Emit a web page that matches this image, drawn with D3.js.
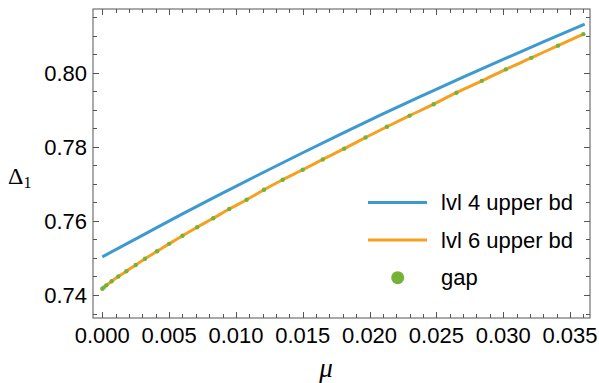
<!DOCTYPE html>
<html>
<head>
<meta charset="utf-8">
<script src="https://cdn.jsdelivr.net/npm/d3@7"></script>
<style>
  html, body { margin: 0; padding: 0; background: #fff; }
  svg { display: block; }
  .tick-label { font-family: "Liberation Sans", Arial, sans-serif; font-size: 22px; fill: #000; }
  .legend-label { font-family: "Liberation Sans", Arial, sans-serif; font-size: 22px; fill: #000; }
  .axis-title { font-family: "Liberation Serif", "Times New Roman", serif; fill: #000; }
</style>
</head>
<body>
<svg id="chart" width="599" height="383"></svg>
<script>
// μ values of the computed gap points, and the gap Δ1 at each
const gapMu = [0, 0.0001, 0.0003, 0.0007, 0.0012, 0.0018, 0.0025, 0.0032, 0.0041, 0.0050,
  0.0060, 0.0071, 0.0083, 0.0095, 0.0108, 0.0121, 0.0135, 0.0150, 0.0165, 0.0181,
  0.0197, 0.0213, 0.0230, 0.0248, 0.0265, 0.0284, 0.0302, 0.0321, 0.0341, 0.0360];
const gapVals = [0.7417, 0.7420, 0.7426, 0.7437, 0.7450, 0.7464, 0.7481, 0.7498, 0.7518, 0.7538,
  0.7560, 0.7583, 0.7607, 0.7632, 0.7657, 0.7684, 0.7711, 0.7738, 0.7766, 0.7795,
  0.7825, 0.7854, 0.7884, 0.7915, 0.7946, 0.7978, 0.8009, 0.8040, 0.8073, 0.8104];

// level-6 upper bound (coincides with the gap)
const lvl6Mu = gapMu;
const lvl6Vals = gapVals;

// level-4 upper bound
const lvl4Mu = [0, 0.003, 0.006, 0.009, 0.012, 0.015, 0.018, 0.021, 0.024, 0.027, 0.030, 0.033, 0.0361];
const lvl4Vals = [0.7503, 0.7561, 0.7619, 0.7675, 0.7730, 0.7784, 0.7837, 0.7889, 0.7939, 0.7988, 0.8036, 0.8083, 0.8131];

const xMajorTicks = [0, 0.005, 0.010, 0.015, 0.020, 0.025, 0.030, 0.035];
const xTickLabels = ["0.000", "0.005", "0.010", "0.015", "0.020", "0.025", "0.030", "0.035"];
const yMajorTicks = [0.74, 0.76, 0.78, 0.80];
const yTickLabels = ["0.74", "0.76", "0.78", "0.80"];

const legendNames = ["lvl 4 upper bd", "lvl 6 upper bd", "gap"];

const colBlue = "#3d9ad1";
const colOrange = "#f5a01e";
const colGreen = "#74b336";
const frameCol = "#555";

const frame = { left: 93, top: 9, right: 590, bottom: 318 };

const svg = d3.select("#chart");

const x = d3.scaleLinear().domain([-0.000696, 0.036496]).range([frame.left, frame.right]);
const y = d3.scaleLinear().domain([0.73379, 0.81719]).range([frame.bottom, frame.top]);

// minor tick positions
const xMinor = d3.range(0, 37).map(i => i / 1000).filter(v => xMajorTicks.every(m => Math.abs(m - v) > 1e-9));
const yMinor = d3.range(147, 164).map(i => i * 0.005).filter(v => v > 0.7338 && v < 0.8172 && yMajorTicks.every(m => Math.abs(m - v) > 1e-9));

const plot = svg.append("g");

// lines
const line = d3.line().x(d => x(d[0])).y(d => y(d[1])).curve(d3.curveMonotoneX);

plot.append("path")
  .datum(d3.zip(lvl4Mu, lvl4Vals))
  .attr("d", line)
  .attr("fill", "none")
  .attr("stroke", colBlue)
  .attr("stroke-width", 3);

plot.append("path")
  .datum(d3.zip(lvl6Mu, lvl6Vals))
  .attr("d", line)
  .attr("fill", "none")
  .attr("stroke", colOrange)
  .attr("stroke-width", 3);

plot.selectAll("circle.gap")
  .data(d3.zip(gapMu, gapVals))
  .join("circle")
  .attr("class", "gap")
  .attr("cx", d => x(d[0]))
  .attr("cy", d => y(d[1]))
  .attr("r", 2.2)
  .attr("fill", colGreen);

// frame
const fr = svg.append("g");
fr.append("rect")
  .attr("x", frame.left).attr("y", frame.top)
  .attr("width", frame.right - frame.left).attr("height", frame.bottom - frame.top)
  .attr("fill", "none").attr("stroke", frameCol).attr("stroke-width", 1);

const majorLen = 6, minorLen = 4;

function xTicks(vals, len) {
  vals.forEach(v => {
    const px = Math.round(x(v)) + 0.5;
    fr.append("line").attr("x1", px).attr("x2", px)
      .attr("y1", frame.bottom).attr("y2", frame.bottom - len)
      .attr("stroke", frameCol).attr("stroke-width", 1);
    fr.append("line").attr("x1", px).attr("x2", px)
      .attr("y1", frame.top).attr("y2", frame.top + len)
      .attr("stroke", frameCol).attr("stroke-width", 1);
  });
}
function yTicks(vals, len) {
  vals.forEach(v => {
    const py = Math.round(y(v)) + 0.5;
    fr.append("line").attr("y1", py).attr("y2", py)
      .attr("x1", frame.left).attr("x2", frame.left + len)
      .attr("stroke", frameCol).attr("stroke-width", 1);
    fr.append("line").attr("y1", py).attr("y2", py)
      .attr("x1", frame.right).attr("x2", frame.right - len)
      .attr("stroke", frameCol).attr("stroke-width", 1);
  });
}
xTicks(xMajorTicks, majorLen);
xTicks(xMinor, minorLen);
yTicks(yMajorTicks, majorLen);
yTicks(yMinor, minorLen);

// tick labels
svg.selectAll("text.xl")
  .data(xMajorTicks)
  .join("text")
  .attr("class", "tick-label xl")
  .attr("x", d => x(d))
  .attr("y", 343)
  .attr("text-anchor", "middle")
  .text((d, i) => xTickLabels[i]);

svg.selectAll("text.yl")
  .data(yMajorTicks)
  .join("text")
  .attr("class", "tick-label yl")
  .attr("x", frame.left - 6)
  .attr("y", d => y(d) + 8)
  .attr("text-anchor", "end")
  .text((d, i) => yTickLabels[i]);

// axis titles
const yt = svg.append("text").attr("class", "axis-title").attr("x", 8).attr("y", 184).attr("font-size", 24);
yt.append("tspan").text("Δ");
yt.append("tspan").attr("font-size", 16).attr("dy", 4).text("1");

svg.append("text").attr("class", "axis-title")
  .attr("x", 326).attr("y", 377)
  .attr("text-anchor", "middle")
  .attr("font-size", 27)
  .attr("font-style", "italic")
  .text("μ");

// legend
const lg = svg.append("g");
const rowY = [202.5, 240, 277.7];
lg.append("line").attr("x1", 368).attr("x2", 427).attr("y1", rowY[0]).attr("y2", rowY[0])
  .attr("stroke", colBlue).attr("stroke-width", 3);
lg.append("line").attr("x1", 368).attr("x2", 427).attr("y1", rowY[1]).attr("y2", rowY[1])
  .attr("stroke", colOrange).attr("stroke-width", 3);
lg.append("circle").attr("cx", 397.7).attr("cy", rowY[2]).attr("r", 6.5).attr("fill", colGreen);
lg.selectAll("text")
  .data(legendNames)
  .join("text")
  .attr("class", "legend-label")
  .attr("x", 441)
  .attr("y", (d, i) => rowY[i] + 7.5)
  .text(d => d);
</script>
</body>
</html>
